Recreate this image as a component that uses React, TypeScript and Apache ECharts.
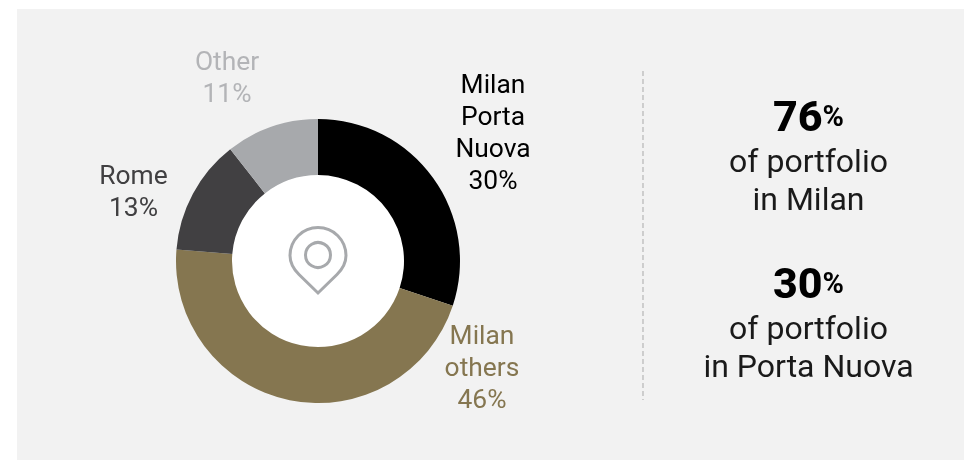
import React, { useEffect, useRef } from "react";
import * as echarts from "echarts";

const categories = ["Milan\nPorta\nNuova", "Milan\nothers", "Rome", "Other"];
const values = [30.1, 46.2, 13.1, 10.6];
const sliceColors = ["#000000", "#857650", "#414042", "#A7A9AC"];
const labelColors = ["#000000", "#857650", "#414042", "#B3B4B7"];
const statValues = ["76", "30"];
const statLines = [
  ["of portfolio", "in Milan"],
  ["of portfolio", "in Porta Nuova"],
];

const FONT = "Roboto";
const labelCenters = [
  [493, 132],
  [482, 367],
  [133.5, 191],
  [227, 77],
];
const pinPath =
  "M28 0 C12.5 0 0 12.5 0 28 C0 36 4 42 9 47 L28 65.5 L47 47 C52 42 56 36 56 28 C56 12.5 43.5 0 28 0 Z";

export default function App() {
  const ref = useRef<HTMLDivElement>(null);
  useEffect(() => {
    echarts.graphic.registerShape("pin", echarts.graphic.extendPath(pinPath, {}) as any);
    const chart = echarts.init(ref.current!, undefined, { renderer: "svg" });
    const statGroup = (i: number, top: number) => ({
      type: "text",
      x: 808.5,
      y: top,
      style: {
        text: `{big|${statValues[i]}}{pct|%}\n{line|${statLines[i][0]}}\n{line|${statLines[i][1]}}`,
        align: "center",
        verticalAlign: "top",
        rich: {
          big: { fontFamily: FONT, fontSize: 43, fontWeight: 800, fill: "#000", lineHeight: 52 },
          pct: { fontFamily: FONT, fontSize: 29, fontWeight: 700, fill: "#000", lineHeight: 52 },
          line: { fontFamily: FONT, fontSize: 32, fill: "#1a1a1a", lineHeight: 38 },
        },
      },
    });
    chart.setOption({
      animation: false,
      backgroundColor: "transparent",
      graphic: [
        { type: "rect", z: -10, shape: { x: 17, y: 9, width: 947, height: 451 }, style: { fill: "#F2F2F2" } },
        { type: "circle", z: -5, shape: { cx: 318, cy: 261, r: 87 }, style: { fill: "#FFFFFF" } },
        { type: "pin", z: 10, x: 290, y: 227.5, style: { fill: "none", stroke: "#A7A9AC", lineWidth: 3 } },
        { type: "circle", z: 10, shape: { cx: 318, cy: 255, r: 12.5 }, style: { fill: "none", stroke: "#A7A9AC", lineWidth: 3 } },
        { type: "line", z: 1, shape: { x1: 643, y1: 71, x2: 643, y2: 400 }, style: { stroke: "#A9A9A9", lineWidth: 1, lineDash: [5, 3] } },
        statGroup(0, 90),
        statGroup(1, 257),
      ],
      series: [
        {
          type: "pie",
          center: [318, 261],
          radius: [86, 142],
          startAngle: 90,
          clockwise: true,
          silent: true,
          data: categories.map((name, i) => ({
            name,
            value: values[i],
            itemStyle: { color: sliceColors[i] },
            label: { color: labelColors[i] },
          })),
          label: {
            show: true,
            position: "outside",
            formatter: (p: any) => `${p.name}\n${Math.round(p.value)}%`,
            fontFamily: FONT,
            fontSize: 26.4,
            lineHeight: 32,
            align: "center",
          },
          labelLine: { show: false },
          labelLayout: (p: any) => ({
            x: labelCenters[p.dataIndex][0],
            y: labelCenters[p.dataIndex][1],
            align: "center",
            verticalAlign: "middle",
          }),
        },
      ],
    });
    return () => chart.dispose();
  }, []);
  return <div ref={ref} style={{ position: "fixed", left: 0, top: 0, width: 964, height: 460 }} />;
}
